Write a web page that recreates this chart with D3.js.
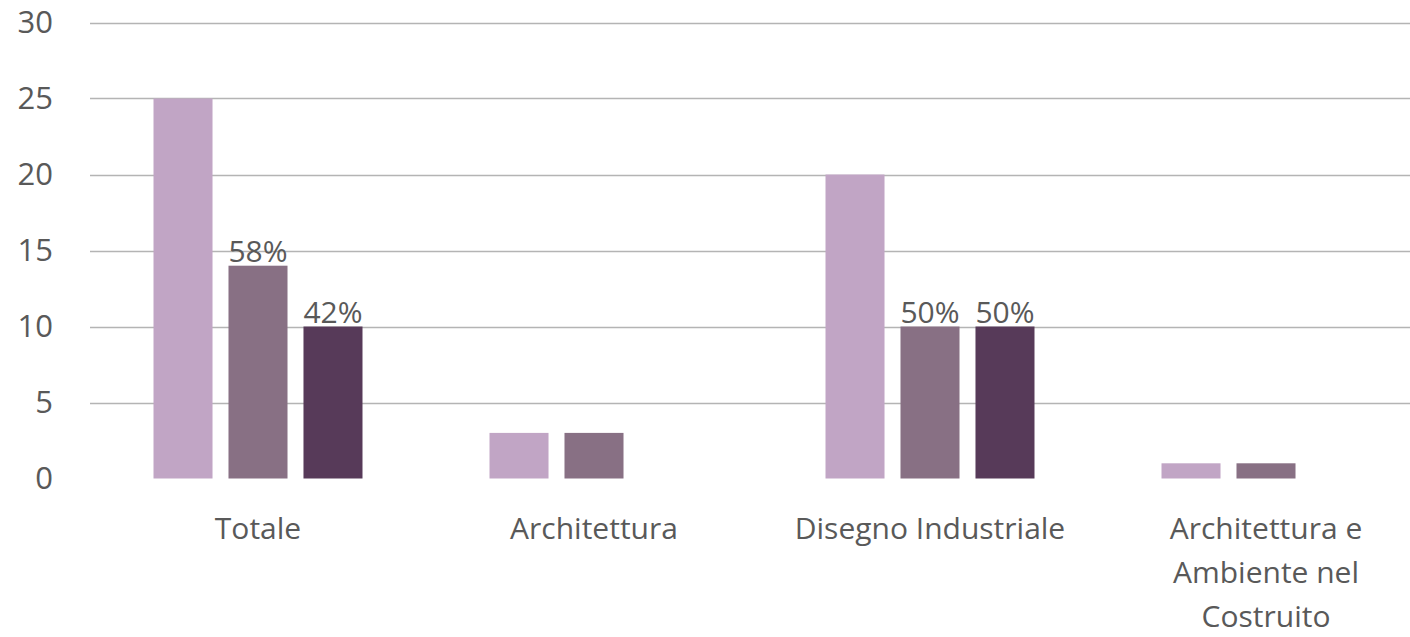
<!DOCTYPE html>
<html>
<head>
<meta charset="utf-8">
<script src="https://cdn.jsdelivr.net/npm/d3@7"></script>
<style>
  body { margin: 0; background: #fff; }
  text { font-family: "Open Sans", sans-serif; fill: #595959; }
</style>
</head>
<body>
<div id="chart"></div>
<script>
// data
var categories = ["Totale", "Architettura", "Disegno Industriale", "Architettura e Ambiente nel Costruito"];
var categoryLines = [["Totale"], ["Architettura"], ["Disegno Industriale"], ["Architettura e", "Ambiente nel", "Costruito"]];
var seriesNames = ["Iscritti", "Serie 2", "Serie 3"];
var series1 = [25, 3, 20, 1];
var series2 = [14, 3, 10, 1];
var series3 = [10, 0, 10, 0];
var labels2 = ["58%", "", "50%", ""];
var labels3 = ["42%", "", "50%", ""];
var colors = ["#c1a5c5", "#887084", "#573a59"];
var yTicks = [0, 5, 10, 15, 20, 25, 30];

var width = 1410, height = 637;
var margin = {top: 0, left: 90};

var rows = [];
categories.forEach(function(c, i) {
  rows.push({cat: c, s: 0, v: series1[i], label: ""});
  rows.push({cat: c, s: 1, v: series2[i], label: labels2[i]});
  rows.push({cat: c, s: 2, v: series3[i], label: labels3[i]});
});

var svg = d3.select("#chart").append("svg")
    .attr("width", width)
    .attr("height", height);

var y = d3.scaleLinear()
    .domain([0, 30])
    .range([478.5, 22.5]);

var x0 = d3.scaleBand()
    .domain(categories)
    .range([margin.left, margin.left + 1344])
    .paddingInner(0.378)
    .paddingOuter(0.189);

var x1 = d3.scaleBand()
    .domain([0, 1, 2])
    .range([0, x0.bandwidth()])
    .paddingInner(0.213)
    .paddingOuter(0);

// gridlines
svg.append("g")
  .selectAll("line")
  .data(yTicks.filter(function(d) { return d > 0; }))
  .enter().append("line")
    .attr("x1", margin.left)
    .attr("x2", width)
    .attr("y1", function(d) { return Math.round(y(d)) + 0.5; })
    .attr("y2", function(d) { return Math.round(y(d)) + 0.5; })
    .attr("stroke", "#b4b4b4")
    .attr("stroke-width", 1.3);

// y axis labels
var yAxis = svg.append("g")
    .attr("transform", "translate(" + margin.left + ",0)")
    .call(d3.axisLeft(y).tickValues(yTicks).tickSize(0).tickPadding(37));
yAxis.select(".domain").remove();
yAxis.selectAll("text")
    .style("font-size", "31px")
    .attr("fill", "#595959");

// bars
svg.append("g")
  .selectAll("rect")
  .data(rows.filter(function(d) { return d.v > 0; }))
  .enter().append("rect")
    .attr("x", function(d) { return x0(d.cat) + x1(d.s); })
    .attr("y", function(d) { return y(d.v); })
    .attr("width", x1.bandwidth())
    .attr("height", function(d) { return y(0) - y(d.v); })
    .attr("fill", function(d) { return colors[d.s]; });

// percent labels
svg.append("g")
  .selectAll("text")
  .data(rows.filter(function(d) { return d.label; }))
  .enter().append("text")
    .attr("x", function(d) { return x0(d.cat) + x1(d.s) + x1.bandwidth() / 2; })
    .attr("y", function(d) { return y(d.v) - 4; })
    .attr("text-anchor", "middle")
    .style("font-size", "30px")
    .text(function(d) { return d.label; });

// category labels
var cats = svg.append("g")
  .selectAll("text")
  .data(categories)
  .enter().append("text")
    .attr("text-anchor", "middle")
    .style("font-size", "30px")
    .attr("transform", function(d) {
      return "translate(" + (x0(d) + x0.bandwidth() / 2) + ",539)";
    });
cats.selectAll("tspan")
  .data(function(d, i) { return categoryLines[i]; })
  .enter().append("tspan")
    .attr("x", 0)
    .attr("dy", function(d, i) { return i === 0 ? 0 : 44; })
    .text(function(d) { return d; });
</script>
</body>
</html>
